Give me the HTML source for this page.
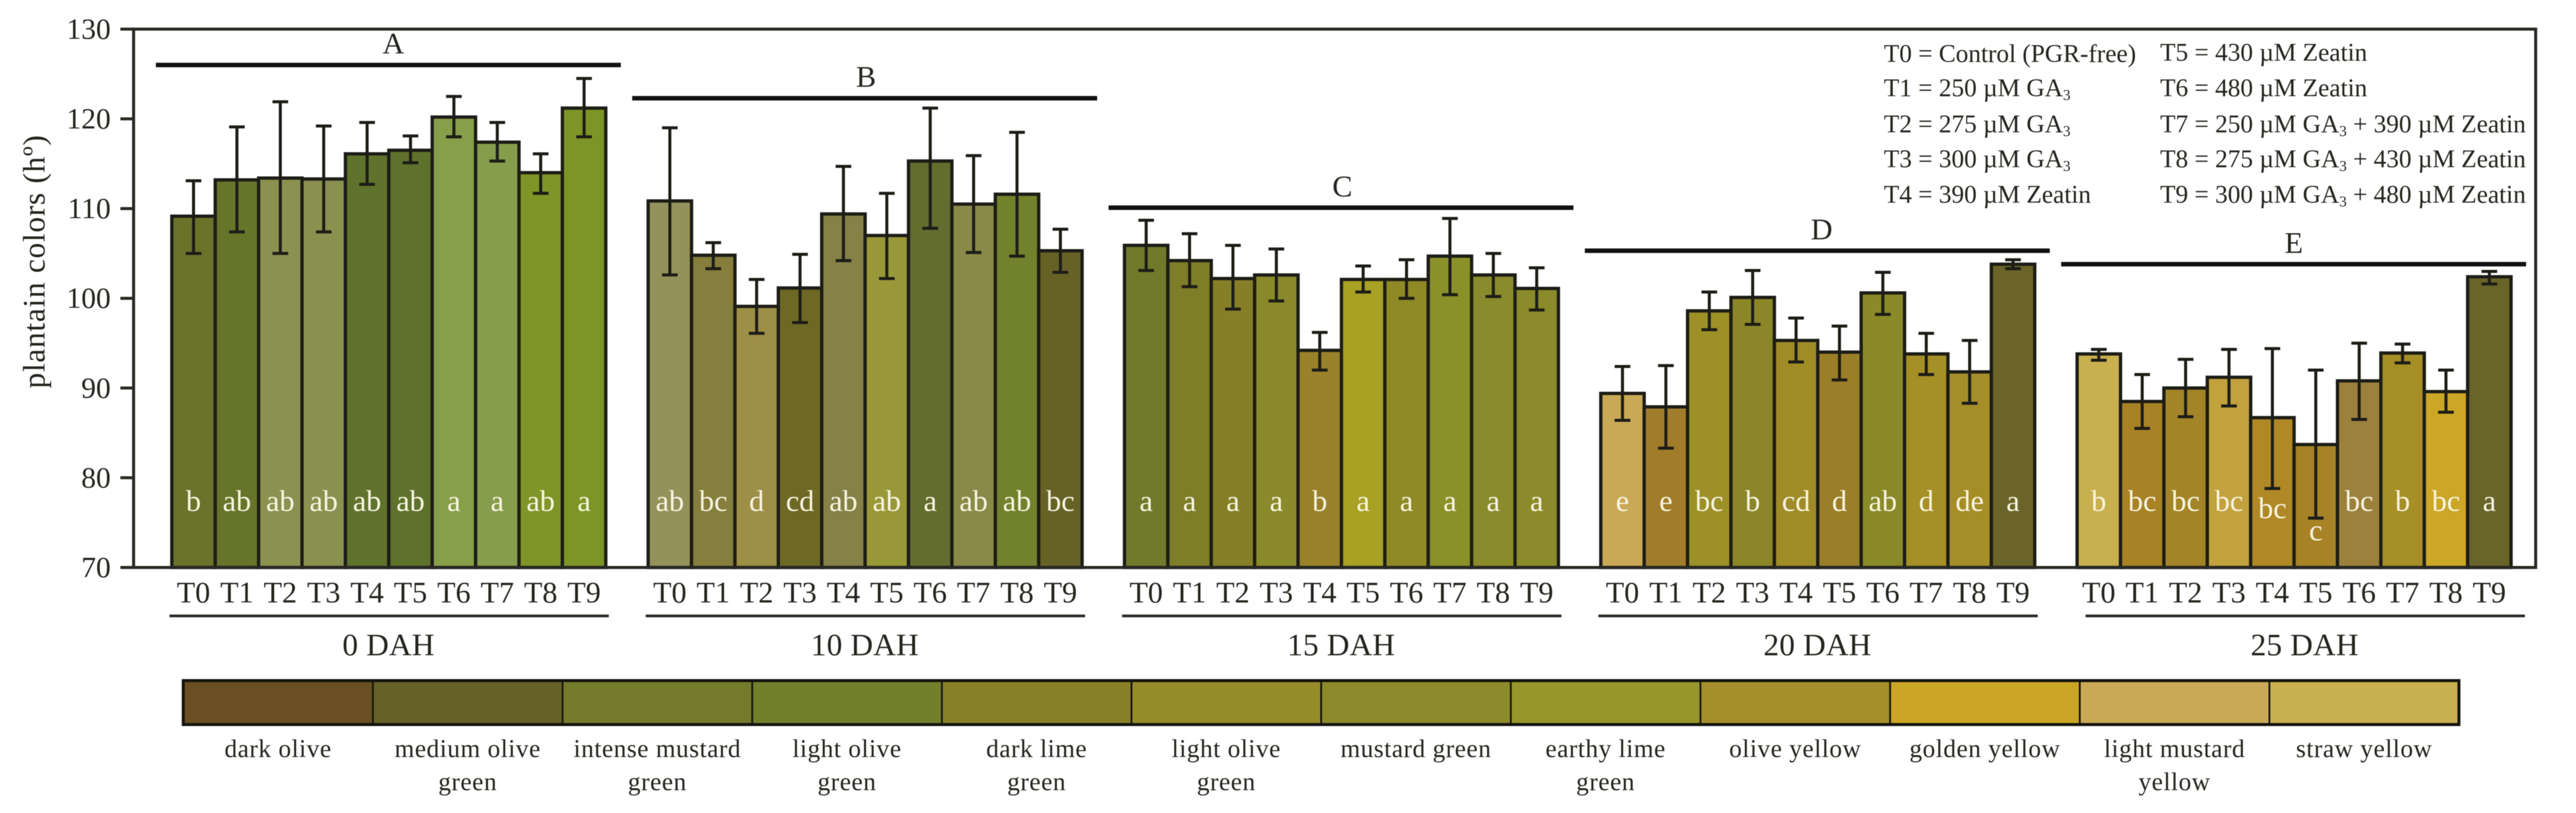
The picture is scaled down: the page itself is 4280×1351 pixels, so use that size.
<!DOCTYPE html>
<html lang="en">
<head>
<meta charset="utf-8">
<title>Plantain colors chart</title>
<style>
html,body{margin:0;padding:0;background:#fff;width:4280px;height:1351px;overflow:hidden}
svg{display:block;filter:blur(0.6px)}
text{font-family:"Liberation Serif",serif;fill:#25251f}
.leg{font-size:42px}
.sub{font-size:25px}
</style>
</head>
<body>
<svg id="chart" xmlns="http://www.w3.org/2000/svg" width="4280" height="1351" viewBox="0 0 4280 1351">
  <rect x="0" y="0" width="4280" height="1351" fill="#ffffff"/>
  <g id="bars"></g>
  <g id="axes"></g>
  <text transform="translate(74,435) rotate(-90)" text-anchor="middle" font-size="52" textLength="421" lengthAdjust="spacing">plantain colors (hº)</text>
  <g>
    <text class="leg" x="3130" y="103">T0 = Control (PGR-free)</text>
    <text class="leg" x="3130" y="160">T1 = 250 µM GA<tspan class="sub" dy="6">3</tspan></text>
    <text class="leg" x="3130" y="220">T2 = 275 µM GA<tspan class="sub" dy="6">3</tspan></text>
    <text class="leg" x="3130" y="278">T3 = 300 µM GA<tspan class="sub" dy="6">3</tspan></text>
    <text class="leg" x="3130" y="337">T4 = 390 µM Zeatin</text>
    <text class="leg" x="3589" y="101">T5 = 430 µM Zeatin</text>
    <text class="leg" x="3589" y="160">T6 = 480 µM Zeatin</text>
    <text class="leg" x="3589" y="220">T7 = 250 µM GA<tspan class="sub" dy="6">3</tspan><tspan dy="-6"> + 390 µM Zeatin</tspan></text>
    <text class="leg" x="3589" y="278">T8 = 275 µM GA<tspan class="sub" dy="6">3</tspan><tspan dy="-6"> + 430 µM Zeatin</tspan></text>
    <text class="leg" x="3589" y="337">T9 = 300 µM GA<tspan class="sub" dy="6">3</tspan><tspan dy="-6"> + 480 µM Zeatin</tspan></text>
  </g>
  <g id="swatches"></g>
</svg>
<script>
// ---- chart data ----
const treatments = ['T0','T1','T2','T3','T4','T5','T6','T7','T8','T9'];
const harvestLabels = ['0 DAH','10 DAH','15 DAH','20 DAH','25 DAH'];
const groupLetters = ['A','B','C','D','E'];
const groupLevels = [126, 122.3, 110.1, 105.3, 103.8];
const yTicks = [70,80,90,100,110,120,130];

const means0 = [109.15,113.2,113.4,113.3,116.1,116.5,120.2,117.4,114,121.2];
const upper0 = [113.1,119.1,121.9,119.2,119.6,118.1,122.5,119.6,116.1,124.5];
const lower0 = [105,107.4,105,107.4,112.7,115.1,118,115.3,111.7,118];
const signif0 = ['b','ab','ab','ab','ab','ab','a','a','ab','a'];

const means10 = [110.85,104.8,99.1,101.15,109.4,107,115.3,110.5,111.6,105.3];
const upper10 = [119,106.2,102.1,104.9,114.7,111.7,121.2,115.9,118.5,107.7];
const lower10 = [102.6,103.3,96.1,97.3,104.2,102.2,107.8,105.1,104.7,102.9];
const signif10 = ['ab','bc','d','cd','ab','ab','a','ab','ab','bc'];

const means15 = [105.9,104.2,102.2,102.6,94.2,102.1,102.1,104.7,102.6,101.1];
const upper15 = [108.7,107.2,105.9,105.5,96.2,103.6,104.3,108.9,105,103.4];
const lower15 = [103.1,101.3,98.8,99.7,92,100.7,100,100.4,100.2,98.7];
const signif15 = ['a','a','a','a','b','a','a','a','a','a'];

const means20 = [89.4,87.9,98.6,100.1,95.3,94,100.6,93.8,91.8,103.8];
const upper20 = [92.4,92.5,100.7,103.1,97.8,96.9,102.9,96.1,95.3,104.3];
const lower20 = [86.4,83.3,96.5,97.1,92.9,90.9,98.2,91.5,88.3,103.3];
const signif20 = ['e','e','bc','b','cd','d','ab','d','de','a'];

const means25 = [93.8,88.5,90,91.2,86.7,83.7,90.8,93.9,89.6,102.4];
const upper25 = [94.3,91.5,93.2,94.3,94.4,92,95,94.9,92,103];
const lower25 = [93.1,85.5,86.8,88,78.8,75.5,86.5,92.8,87.3,101.6];
const signif25 = ['b','bc','bc','bc','bc','c','bc','b','bc','a'];

const allMeans = [means0,means10,means15,means20,means25];
const allUpper = [upper0,upper10,upper15,upper20,upper25];
const allLower = [lower0,lower10,lower15,lower20,lower25];
const allSignif = [signif0,signif10,signif15,signif20,signif25];

const colorNames = [['dark olive'],['medium olive','green'],['intense mustard','green'],['light olive','green'],['dark lime','green'],['light olive','green'],['mustard green'],['earthy lime','green'],['olive yellow'],['golden yellow'],['light mustard','yellow'],['straw yellow']];

// ---- appearance ----
const swatchFills = ['#694f21','#666228','#757b2c','#72802c','#878028','#978c2b','#8c8a2a','#96962b','#a68f2a','#cba525','#c9a955','#c9b04f'];
const fills0 = ['#6b732b','#66752a','#8b914f','#8a914f','#5f732c','#5f722c','#889f4a','#869d4c','#7f9527','#7d9526'];
const fills10 = ['#94925b','#857e3c','#9e8f47','#6e6825','#858147','#999838','#626d2f','#898a48','#72812c','#666226'];
const fills15 = ['#717a2a','#7e7d28','#858027','#8b8a2b','#9a822b','#a9a124','#8f8926','#8b9129','#8a8b2b','#8b8b2b'];
const fills20 = ['#c9a955','#a17d2b','#9d9026','#8b8628','#a08c27','#9b7f28','#8a8a29','#a68f26','#a58e28','#6a6428'];
const fills25 = ['#c9b04f','#a88225','#a38527','#c2a23c','#b08826','#a78326','#9b813b','#a68f26','#cca626','#696428'];
const allFills = [fills0,fills10,fills15,fills20,fills25];

// ---- axis functions ----
const Y_MIN = 70, Y_MAX = 130, Y_BOTTOM = 943, Y_TOP = 48.4;
const GROUP_LEFT = 285.5, GROUP_STEP = 791.4, BAR_W = 72.1;
function yScale(v){ return Y_BOTTOM - (v - Y_MIN) * (Y_BOTTOM - Y_TOP) / (Y_MAX - Y_MIN); }
function groupX(g){ return GROUP_LEFT + g * GROUP_STEP; }
function barX(g,i){ return groupX(g) + i * BAR_W; }
function barCenter(g,i){ return barX(g,i) + BAR_W / 2; }

const NS = 'http://www.w3.org/2000/svg';
function make(parent, tag, attrs, txt){
  const el = document.createElementNS(NS, tag);
  for (const k in attrs) el.setAttribute(k, attrs[k]);
  if (txt !== undefined) el.textContent = txt;
  parent.appendChild(el);
  return el;
}
const INK = '#1d1d17';
const barsLayer = document.getElementById('bars');
const axesLayer = document.getElementById('axes');
const swatchLayer = document.getElementById('swatches');

// ---- bars and error bars ----
allMeans.forEach(function(series, g){
  const group = make(barsLayer, 'g', {});
  
  
  series.forEach(function(v, i){
    const top = yScale(v);
    const bar = make(group, 'rect', {x: barX(g,i), y: top, width: BAR_W, height: Y_BOTTOM - top, fill: allFills[g][i], stroke: INK, 'stroke-width': 5.5});
    
    
  });
  series.forEach(function(v, i){
    const cx = barCenter(g,i), yu = yScale(allUpper[g][i]), yl = yScale(allLower[g][i]);
    const err = make(group, 'path', {d: 'M' + cx + ' ' + yu + 'V' + yl + 'M' + (cx-13) + ' ' + yu + 'H' + (cx+13) + 'M' + (cx-13) + ' ' + yl + 'H' + (cx+13), fill: 'none', stroke: INK, 'stroke-width': 5});
    
    
    let base = 849;
    if (g === 4 && i === 4) base = 861;
    if (g === 4 && i === 5) base = 898;
    const lab = make(group, 'text', {x: cx, y: base, 'text-anchor': 'middle', 'font-size': 50, style: 'fill:#f7f4e0'}, allSignif[g][i]);
    
    
    const tick = make(group, 'text', {x: cx, y: 1001, 'text-anchor': 'middle', 'font-size': 50}, treatments[i]);
    
    
  });

  // harvest underline and label
  const shift = g === 4 ? 18 : 0;
  const under = make(group, 'line', {x1: groupX(g) - 4 + shift, x2: groupX(g) + 726 + shift, y1: 1023.5, y2: 1023.5, stroke: '#2a2a22', 'stroke-width': 4.5});
  
  
  const hl = make(group, 'text', {x: groupX(g) + 360 + shift, y: 1089, 'text-anchor': 'middle', 'font-size': 52, 'letter-spacing': 0.3}, harvestLabels[g]);
  
  

  // significance bracket
  const ly = yScale(groupLevels[g]);
  const sig = make(group, 'line', {x1: groupX(g) - 26.5, x2: groupX(g) + 746, y1: ly, y2: ly, stroke: '#111', 'stroke-width': 7.5});
  
  
  const nudge = [8,2,2,7,0][g];
  const sl = make(group, 'text', {x: groupX(g) + 360 + nudge, y: ly - 19, 'text-anchor': 'middle', 'font-size': 50}, groupLetters[g]);
  
  
});

// ---- axes ----
const frame = make(axesLayer, 'path', {d: 'M222 ' + Y_BOTTOM + 'V' + Y_TOP + 'H4213V' + Y_BOTTOM + 'H222', fill: 'none', stroke: '#2a2a24', 'stroke-width': 5});


yTicks.forEach(function(t){
  const y = yScale(t);
  const tk = make(axesLayer, 'line', {x1: 200, x2: 222, y1: y, y2: y, stroke: '#2a2a24', 'stroke-width': 5});
  
  
  const lb = make(axesLayer, 'text', {x: 184, y: y + 16, 'text-anchor': 'end', 'font-size': 49}, String(t));
  
  
});

// ---- color scale ----
colorNames.forEach(function(lines, i){
  const x = 304.5 + i * 315.1;
  const sw = make(swatchLayer, 'rect', {x: x, y: 1131, width: 315.1, height: 73, fill: swatchFills[i], stroke: 'none'});
  
  
  lines.forEach(function(line, n){
    const t = make(swatchLayer, 'text', {x: x + 157.5, y: 1258 + n * 55, 'text-anchor': 'middle', 'font-size': 42, 'letter-spacing': 0.9}, line);
    
    
  });
});
colorNames.forEach(function(lines, i){
  if (i === 0) return;
  const x = 304.5 + i * 315.1;
  const dv = make(swatchLayer, 'line', {x1: x, x2: x, y1: 1130, y2: 1205, stroke: '#15150f', 'stroke-width': 3});
  
  
});
const outline = make(swatchLayer, 'rect', {x: 304.5, y: 1131, width: 3781, height: 73, fill: 'none', stroke: '#15150f', 'stroke-width': 5});


</script>
</body>
</html>
